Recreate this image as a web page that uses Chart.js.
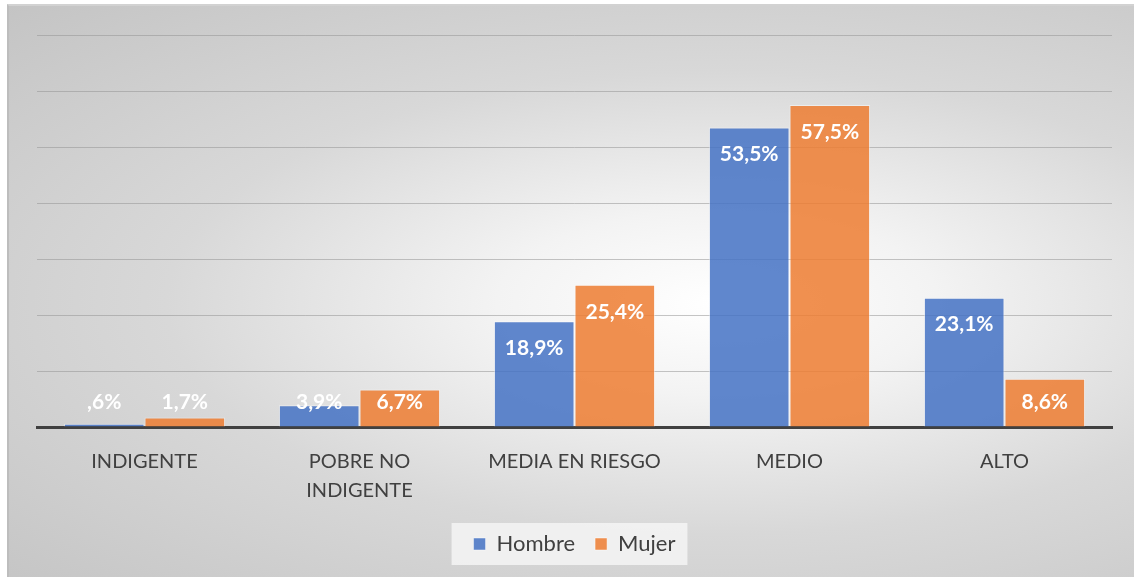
<!DOCTYPE html>
<html>
<head>
<meta charset="utf-8">
<script src="https://cdn.jsdelivr.net/npm/chart.js@4/dist/chart.umd.min.js"></script>
<style>
  html, body { margin: 0; padding: 0; background: #ffffff; }
  #frame {
    position: absolute; left: 7px; top: 4px; width: 1127px; height: 573px;
    box-sizing: border-box;
    border-top: 2px solid #d2d2d2; border-left: 2px solid #bdbdbd;
    background: radial-gradient(ellipse at 63% 52%, #ffffff 0%, #f3f3f3 22%, #d8d8d8 55%, #c4c4c4 100%);
  }
  #wrap { position: absolute; left: 0; top: 0; width: 1134px; height: 577px; }
</style>
</head>
<body>
<div id="frame"></div>
<div id="wrap"><canvas id="chart"></canvas></div>
<script>
const categories = ["INDIGENTE", ["POBRE NO", "INDIGENTE"], "MEDIA EN RIESGO", "MEDIO", "ALTO"];
const hombre = [0.6, 3.9, 18.9, 53.5, 23.1];
const mujer = [1.7, 6.7, 25.4, 57.5, 8.6];
const yTicks = [0, 10, 20, 30, 40, 50, 60, 70];

function formatPct(value) {
  let text = value.toFixed(1).replace(".", ",");
  if (text.startsWith("0,")) text = text.slice(1);
  return text + "%";
}

const valueLabels = {
  id: "valueLabels",
  afterDatasetsDraw(chart) {
    const ctx = chart.ctx;
    ctx.save();
    ctx.font = "bold 21px Lato, 'Open Sans', sans-serif";
    ctx.fillStyle = "#ffffff";
    ctx.textAlign = "center";
    ctx.textBaseline = "middle";
    chart.data.datasets.forEach((ds, i) => {
      chart.getDatasetMeta(i).data.forEach((bar, j) => {
        const y = Math.min(bar.y + 27, bar.base - 24);
        ctx.fillText(formatPct(ds.data[j]), bar.x, y);
      });
    });
    ctx.restore();
  },
};

const legendBox = {
  id: "legendBox",
  beforeDraw(chart) {
    const boxes = chart.legend.legendHitBoxes;
    if (!boxes || !boxes.length) return;
    const first = boxes[0];
    const last = boxes[boxes.length - 1];
    const ctx = chart.ctx;
    ctx.save();
    ctx.fillStyle = "rgba(244,244,244,0.85)";
    ctx.fillRect(first.left - 22, first.top - 10, last.left + last.width - first.left + 34, first.height + 20);
    ctx.restore();
  },
};

new Chart(document.getElementById("chart").getContext("2d"), {
  type: "bar",
  data: {
    labels: categories,
    datasets: [
      {
        label: "Hombre",
        data: hombre,
        backgroundColor: "rgba(68,114,196,0.85)",
        borderColor: "rgba(255,255,255,0.45)",
        borderWidth: 1,
        categoryPercentage: 0.75,
        barPercentage: 1,
      },
      {
        label: "Mujer",
        data: mujer,
        backgroundColor: "rgba(237,125,49,0.85)",
        borderColor: "rgba(255,255,255,0.45)",
        borderWidth: 1,
        categoryPercentage: 0.75,
        barPercentage: 1,
      },
    ],
  },
  options: {
    responsive: true,
    maintainAspectRatio: false,
    animation: false,
    layout: { padding: { left: 37, right: 22, top: 35, bottom: 12 } },
    plugins: {
      tooltip: { enabled: false },
      legend: {
        position: "bottom",
        labels: {
          color: "#404040",
          font: { family: "Lato, 'Open Sans', sans-serif", size: 22 },
          boxWidth: 12,
          boxHeight: 12,
          padding: 20,
        },
      },
    },
    scales: {
      x: {
        grid: { display: false },
        border: { color: "#404040", width: 3 },
        ticks: {
          color: "#404040",
          font: { family: "Lato, 'Open Sans', sans-serif", size: 20, lineHeight: 1.45 },
          padding: 12,
          maxRotation: 0,
        },
        afterFit(scale) { scale.height = 86; },
      },
      y: {
        min: yTicks[0],
        max: yTicks[yTicks.length - 1],
        afterBuildTicks(scale) { scale.ticks = yTicks.map((v) => ({ value: v })); },
        ticks: { display: false },
        border: { display: false },
        grid: { color: "rgba(150,150,150,0.55)", lineWidth: 1, drawTicks: false },
      },
    },
  },
  plugins: [legendBox, valueLabels],
});
</script>
</body>
</html>
